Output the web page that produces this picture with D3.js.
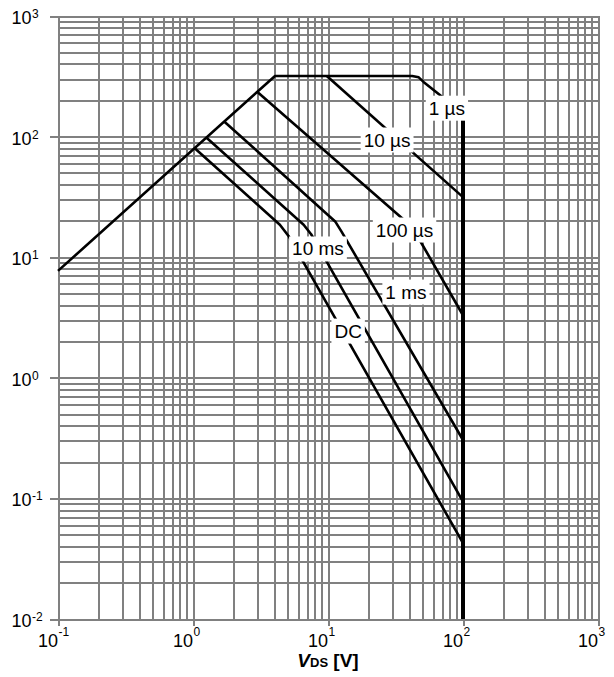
<!DOCTYPE html>
<html>
<head>
<meta charset="utf-8">
<script src="https://cdn.jsdelivr.net/npm/d3@7/dist/d3.min.js"></script>
<style>
  html, body { margin: 0; padding: 0; background: #fff; }
  svg { display: block; font-family: "Liberation Sans", Arial, sans-serif; }
  .grid line { stroke: #808080; stroke-width: 2px; shape-rendering: crispEdges; }
  .grid path { display: none; }
  .tick-out line { stroke: #808080; stroke-width: 2px; shape-rendering: crispEdges; }
  .tick-out path { display: none; }
</style>
</head>
<body>
<div id="chart"></div>
<script>
// decade tick exponents
var xExponents = [-1, 0, 1, 2, 3];
var yExponents = [-2, -1, 0, 1, 2, 3];

// SOA curves (VDS in V, ID in A)
var curveNames = ["1 µs", "10 µs", "100 µs", "1 ms", "10 ms", "DC"];
var curveVds = [
  [0.1, 4.05, 42, 47, 51, 70, 100],
  [9.8, 100],
  [3.03, 42, 100],
  [1.71, 11.3, 12.6, 100],
  [1.26, 6.6, 7.5, 100],
  [1.03, 4.4, 5.1, 100]
];
var curveId = [
  [7.7, 318, 318, 310, 284, 214, 150],
  [318, 31.5],
  [232, 17.8, 3.3],
  [133, 19.8, 16.3, 0.305],
  [98, 18.6, 15.5, 0.094],
  [80, 18.6, 15.0, 0.0425]
];
// label positions (VDS, ID) where each label sits on its curve
var labelVds = [76, 27.4, 36.9, 37.8, 8.43, 14.1];
var labelId = [172, 93.7, 16.8, 5.14, 11.7, 2.44];

// 100 V limit
var limitVds = [100, 100];
var limitId = [150, 0.01];

var W = 614, H = 677;
var mLeft = 58, mRight = 598, mTop = 16, mBottom = 619;

var svg = d3.select("#chart").append("svg")
  .attr("width", W).attr("height", H);

var x = d3.scaleLog().domain([0.1, 1000]).range([mLeft, mRight]);
var y = d3.scaleLog().domain([0.01, 1000]).range([mBottom, mTop]);

// grid values: 1..9 in every decade
function gridValues(lo, hi) {
  var v = [];
  for (var e = lo; e < hi; e++) {
    for (var m = 1; m <= 9; m++) v.push(m * Math.pow(10, e));
  }
  v.push(Math.pow(10, hi));
  return v;
}

svg.append("g").attr("class", "grid")
  .attr("transform", "translate(0," + mBottom + ")")
  .call(d3.axisBottom(x).tickValues(gridValues(-1, 3)).tickSize(-(mBottom - mTop)).tickFormat(""));

svg.append("g").attr("class", "grid")
  .attr("transform", "translate(" + mLeft + ",0)")
  .call(d3.axisLeft(y).tickValues(gridValues(-2, 3)).tickSize(-(mRight - mLeft)).tickFormat(""));

// outward ticks at decades
svg.append("g").attr("class", "tick-out")
  .attr("transform", "translate(0," + mBottom + ")")
  .call(d3.axisBottom(x).tickValues(xExponents.map(function (e) { return Math.pow(10, e); }))
    .tickSize(7).tickFormat(""));

svg.append("g").attr("class", "tick-out")
  .attr("transform", "translate(" + mLeft + ",0)")
  .call(d3.axisLeft(y).tickValues(yExponents.map(function (e) { return Math.pow(10, e); }))
    .tickSize(8).tickFormat(""));

// tick labels
xExponents.forEach(function (e) {
  var px = x(Math.pow(10, e));
  svg.append("text").attr("x", px).attr("y", 647)
    .attr("text-anchor", "end").style("font-size", "18px").text("10");
  svg.append("text").attr("x", px + 0.5).attr("y", 636)
    .attr("text-anchor", "start").style("font-size", "12px").text(String(e));
});

yExponents.forEach(function (e) {
  var py = y(Math.pow(10, e));
  svg.append("text").attr("x", 31.5).attr("y", py + 8)
    .attr("text-anchor", "end").style("font-size", "18px").text("10");
  svg.append("text").attr("x", 32).attr("y", py + 2)
    .attr("text-anchor", "start").style("font-size", "12px").text(String(e));
});

// axis title
var title = svg.append("text")
  .attr("x", (mLeft + mRight) / 2).attr("y", 667)
  .attr("text-anchor", "middle")
  .style("font-weight", "bold");
title.append("tspan").style("font-size", "19px").style("font-style", "italic").text("V");
title.append("tspan").style("font-size", "13px").text("DS");
title.append("tspan").style("font-size", "19px").text(" [V]");

// curves
var line = d3.line()
  .x(function (d) { return x(d[0]); })
  .y(function (d) { return y(d[1]); });

curveNames.forEach(function (name, i) {
  var pts = curveVds[i].map(function (v, j) { return [v, curveId[i][j]]; });
  svg.append("path")
    .attr("d", line(pts))
    .attr("fill", "none")
    .attr("stroke", "#000")
    .attr("stroke-width", 2.6)
    .attr("stroke-linejoin", "round");
});

svg.append("path")
  .attr("d", line(limitVds.map(function (v, j) { return [v, limitId[j]]; })))
  .attr("fill", "none")
  .attr("stroke", "#000")
  .attr("stroke-width", 4);

// labels with white boxes
curveNames.forEach(function (name, i) {
  var g = svg.append("g");
  var t = g.append("text")
    .attr("x", x(labelVds[i])).attr("y", y(labelId[i]))
    .attr("text-anchor", "middle")
    .attr("dominant-baseline", "central")
    .style("font-size", "19px")
    .text(name);
  var bb = t.node().getBBox();
  g.insert("rect", "text")
    .attr("x", bb.x - 3).attr("y", bb.y - 2)
    .attr("width", bb.width + 6).attr("height", bb.height + 4)
    .attr("fill", "#fff");
});
</script>
</body>
</html>
